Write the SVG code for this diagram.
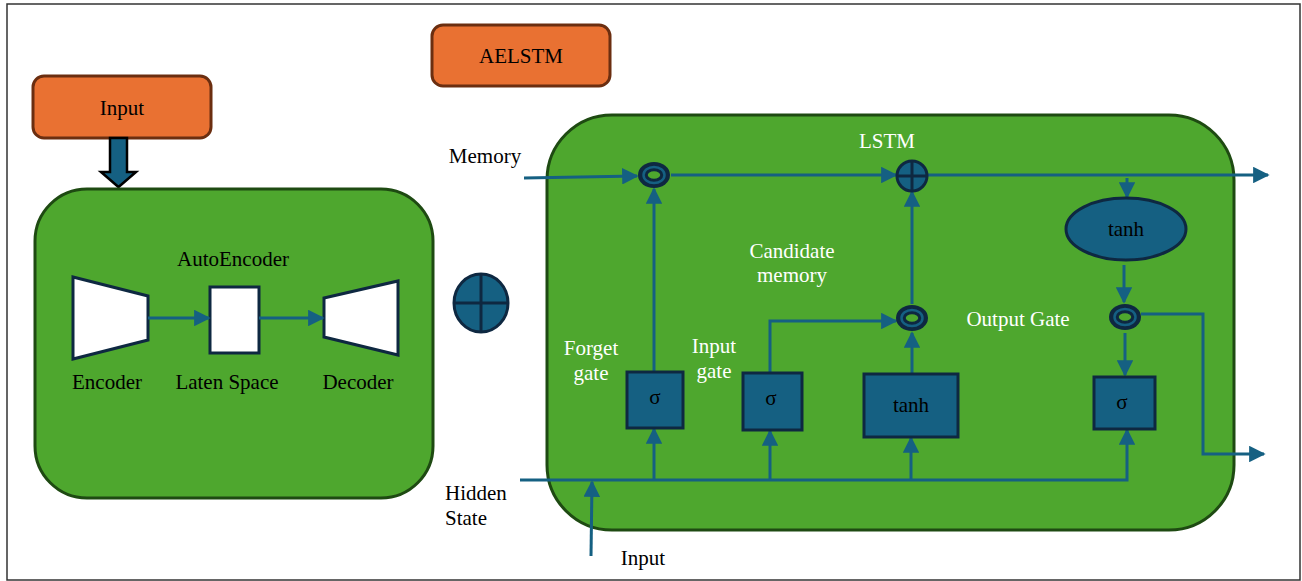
<svg xmlns="http://www.w3.org/2000/svg" width="1302" height="581" viewBox="0 0 1302 581">
<defs>
<style>
.t{font-family:"Liberation Serif","Times New Roman",serif;font-size:21px;fill:#000;}
.w{fill:#fff;}
.m{text-anchor:middle;}
.orange{fill:#E97132;stroke:#6B2E10;stroke-width:3;}
.green{fill:#4EA72E;stroke:#1E4A12;stroke-width:3;}
.blue{fill:#156082;stroke:#0E2841;stroke-width:3;}
.wshape{fill:#fff;stroke:#0E2841;stroke-width:3;}
.c{fill:none;stroke:#156082;stroke-width:3;}
</style>
<marker id="ah" viewBox="0 0 10 10" refX="9" refY="5" markerWidth="5.5" markerHeight="5.5" orient="auto" markerUnits="strokeWidth">
<path d="M0,0 L10,5 L0,10 z" fill="#156082"/>
</marker>
<g id="mult">
<ellipse cx="0" cy="0" rx="16" ry="13" fill="#0E2841"/>
<ellipse cx="0" cy="0" rx="10.5" ry="8" fill="none" stroke="#156082" stroke-width="2.5"/>
<ellipse cx="0" cy="0" rx="7" ry="4.5" fill="#4EA72E" stroke="#0E2841" stroke-width="1.5"/>
</g>
</defs>
<rect x="7" y="4" width="1293" height="576" fill="#fff" stroke="#333" stroke-width="1.5"/>

<g id="input-top">
<rect x="33" y="76" width="178" height="62" rx="11" class="orange"/>
<text x="122" y="115" class="t m">Input</text>
</g>
<g id="aelstm-title">
<rect x="432" y="25" width="178" height="61" rx="11" class="orange"/>
<text x="521" y="63" class="t m">AELSTM</text>
</g>
<g id="block-arrow">
<path d="M110,138 H127 V172 H136 L118.5,187 L101,172 H110 Z" fill="#156082" stroke="#000" stroke-width="2.5"/>
</g>

<g id="autoencoder">
<rect x="35" y="189" width="398" height="309" rx="52" class="green"/>
<text x="233" y="266" class="t m">AutoEncoder</text>
</g>
<g id="encoder">
<path d="M73,277 L148,296 L148,340 L73,359 Z" class="wshape"/>
<text x="107" y="389" class="t m">Encoder</text>
</g>
<g id="latent">
<rect x="210" y="287" width="49" height="66" class="wshape"/>
<text x="227" y="389" class="t m">Laten Space</text>
</g>
<g id="decoder">
<path d="M324,298 L398,281 L398,355 L324,337 Z" class="wshape"/>
<text x="358" y="389" class="t m">Decoder</text>
</g>
<g id="combine">
<ellipse cx="481" cy="303" rx="27" ry="29" class="blue"/>
<line x1="481" y1="274" x2="481" y2="332" stroke="#0E2841" stroke-width="3"/>
<line x1="454" y1="303" x2="508" y2="303" stroke="#0E2841" stroke-width="3"/>
</g>

<g id="lstm">
<rect x="547" y="115" width="687" height="415" rx="65" class="green"/>
<text x="887" y="148" class="t m w">LSTM</text>
</g>
<g id="labels">
<text x="485" y="163" class="t m">Memory</text>
<text x="445" y="500" class="t">Hidden</text>
<text x="445" y="525" class="t">State</text>
<text x="643" y="565" class="t m">Input</text>
<text x="591" y="355" class="t m w">Forget</text>
<text x="591" y="380" class="t m w">gate</text>
<text x="714" y="353" class="t m w">Input</text>
<text x="714" y="378" class="t m w">gate</text>
<text x="792" y="258" class="t m w">Candidate</text>
<text x="792" y="282" class="t m w">memory</text>
<text x="1018" y="326" class="t m w">Output Gate</text>
</g>

<g id="connectors">
<line x1="148" y1="318" x2="209" y2="318" class="c" marker-end="url(#ah)"/>
<line x1="259" y1="318" x2="323" y2="318" class="c" marker-end="url(#ah)"/>
<line x1="524" y1="178" x2="637" y2="176" class="c" marker-end="url(#ah)"/>
<line x1="671" y1="175" x2="896" y2="175" class="c" marker-end="url(#ah)"/>
<line x1="928" y1="175" x2="1268" y2="175" class="c" marker-end="url(#ah)"/>
<line x1="1127" y1="178" x2="1127" y2="197" class="c" marker-end="url(#ah)"/>
<line x1="1124" y1="265" x2="1124" y2="302" class="c" marker-end="url(#ah)"/>
<polyline points="1141,314 1203,314 1203,454 1264,454" class="c" marker-end="url(#ah)"/>
<line x1="1125" y1="333" x2="1125" y2="375" class="c" marker-end="url(#ah)"/>
<line x1="654" y1="372" x2="654" y2="189" class="c" marker-end="url(#ah)"/>
<polyline points="770,373 770,321 896,321" class="c" marker-end="url(#ah)"/>
<line x1="912" y1="374" x2="912" y2="333" class="c" marker-end="url(#ah)"/>
<line x1="912" y1="304" x2="912" y2="192" class="c" marker-end="url(#ah)"/>
<polyline points="520,480 1127,480 1127,430" class="c" marker-end="url(#ah)"/>
<line x1="654" y1="480" x2="654" y2="429" class="c" marker-end="url(#ah)"/>
<line x1="770" y1="480" x2="770" y2="431" class="c" marker-end="url(#ah)"/>
<line x1="911" y1="480" x2="911" y2="438" class="c" marker-end="url(#ah)"/>
<line x1="591" y1="556" x2="592" y2="482" class="c" marker-end="url(#ah)"/>
</g>

<g id="forget-mult"><use href="#mult" x="654" y="175"/></g>
<g id="cell-add">
<circle cx="912" cy="176" r="15" class="blue"/>
<line x1="912" y1="161" x2="912" y2="191" stroke="#0E2841" stroke-width="3"/>
<line x1="897" y1="176" x2="927" y2="176" stroke="#0E2841" stroke-width="3"/>
</g>
<g id="input-mult"><use href="#mult" x="912" y="318"/></g>
<g id="output-mult"><use href="#mult" x="1125" y="317"/></g>
<g id="tanh-out">
<ellipse cx="1126" cy="229" rx="60" ry="31" class="blue"/>
<text x="1126" y="236" class="t m">tanh</text>
</g>
<g id="forget-sigma">
<rect x="627" y="372" width="56" height="56" class="blue"/>
<text x="655" y="404" class="t m">σ</text>
</g>
<g id="input-sigma">
<rect x="743" y="373" width="59" height="57" class="blue"/>
<text x="771" y="405" class="t m">σ</text>
</g>
<g id="candidate-tanh">
<rect x="864" y="374" width="94" height="63" class="blue"/>
<text x="911" y="412" class="t m">tanh</text>
</g>
<g id="output-sigma">
<rect x="1094" y="377" width="61" height="52" class="blue"/>
<text x="1122" y="409" class="t m">σ</text>
</g>
</svg>
